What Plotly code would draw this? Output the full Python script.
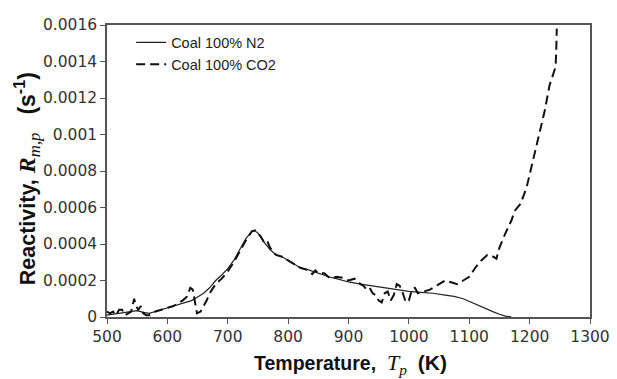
import plotly.graph_objects as go

# Coal 100% N2 (solid)
t_n2 = [500, 510, 520, 530, 540, 550, 560, 570, 580, 590, 600, 610, 620, 630, 640, 650, 660, 670,
        680, 690, 700, 710, 720, 730, 740, 745, 750, 760, 770, 780, 790, 800, 810, 820, 830, 840,
        850, 860, 870, 880, 890, 900, 920, 940, 960, 980, 1000, 1020, 1040, 1060, 1075, 1090, 1100,
        1110, 1120, 1130, 1140, 1150, 1160, 1170]
r_n2 = [0.00001, 0.000015, 0.00002, 0.000028, 0.000033, 0.000035, 0.000025, 0.00002, 0.00003,
        0.00004, 0.00005, 0.00006, 0.00007, 0.00008, 0.00009, 0.00011, 0.00013, 0.00016, 0.0002,
        0.00023, 0.000265, 0.00031, 0.00037, 0.00043, 0.00047, 0.000472, 0.00046, 0.00041,
        0.00037, 0.00034, 0.00033, 0.00031, 0.00029, 0.00027, 0.000262, 0.00025, 0.00024,
        0.00023, 0.000218, 0.00021, 0.0002, 0.000192, 0.00018, 0.00017, 0.00016, 0.00015,
        0.00014, 0.000135, 0.00013, 0.00012, 0.000113, 0.0001, 0.000085, 0.00007, 0.000055,
        0.00004, 0.000028, 0.000015, 0.000005, 0.0]

# Coal 100% CO2 (dashed)
t_co2 = [500, 505, 510, 515, 520, 525, 530, 535, 540, 545, 548, 552, 556, 560, 565, 570, 575, 580,
         590, 600, 610, 620, 625, 632, 638, 642, 646, 649, 655, 660, 665, 670, 680, 690, 700, 710,
         720, 730, 740, 745, 750, 755, 760, 765, 770, 775, 780, 790, 800, 810, 820, 830, 840, 845,
         850, 860, 870, 880, 890, 900, 910, 920, 925, 930, 935, 940, 945, 950, 955, 960, 965, 970,
         975, 980, 985, 990, 995, 1000, 1005, 1010, 1015, 1025, 1035, 1050, 1060, 1070, 1080, 1090,
         1100, 1110, 1120, 1130, 1140, 1145, 1150, 1160, 1170, 1175, 1180, 1185, 1195, 1205, 1215,
         1225, 1233, 1240, 1243, 1244, 1245]
r_co2 = [0.00003, 0.00002, 0.00003, 0.00001, 0.00004, 0.00004, 0.00001, 0.00002, 0.00003, 0.0001,
         0.00006, 0.00004, 0.00006, 0.00002, 0.00001, 0.00001, 0.00002, 0.00003, 0.00004, 0.00005,
         0.00006, 0.00008, 0.00009, 0.00011, 0.00016, 0.00015, 0.00008, 0.00002, 0.00003, 0.00006,
         0.00009, 0.00013, 0.00018, 0.00021, 0.00025, 0.0003, 0.00036, 0.00042, 0.00047, 0.000475,
         0.00046, 0.00044, 0.00041, 0.00042, 0.00038, 0.00036, 0.00034, 0.00033, 0.00031, 0.00029,
         0.00027, 0.00026, 0.000235, 0.000255, 0.00024, 0.00024, 0.00021, 0.00022, 0.000215,
         0.0002, 0.00021, 0.00018, 0.00017, 0.00015, 0.00016, 0.00013, 0.00012, 0.00009, 0.00008,
         0.00013, 0.00014, 0.00009, 0.00012, 0.00018, 0.00017, 0.00013, 0.00008, 0.00009, 0.00015,
         0.00016, 0.00013, 0.00014, 0.00015, 0.00018, 0.0002, 0.00019, 0.00018, 0.0002, 0.00022,
         0.00027, 0.00031, 0.00034, 0.00033, 0.00032, 0.00038, 0.00046, 0.00053, 0.00058, 0.0006,
         0.00062, 0.00071, 0.00085, 0.001, 0.00113, 0.00127, 0.00135, 0.00137, 0.00145, 0.00158]

x_ticks = [500, 600, 700, 800, 900, 1000, 1100, 1200, 1300]
y_ticks = [0, 0.0002, 0.0004, 0.0006, 0.0008, 0.001, 0.0012, 0.0014, 0.0016]
y_ticklabels = ["0", "0.0002", "0.0004", "0.0006", "0.0008", "0.001", "0.0012", "0.0014", "0.0016"]

fig = go.Figure()
fig.add_trace(go.Scatter(x=t_n2, y=r_n2, mode="lines", name="Coal 100% N2",
                         line=dict(color="#222222", width=1.2)))
fig.add_trace(go.Scatter(x=t_co2, y=r_co2, mode="lines", name="Coal 100% CO2",
                         line=dict(color="#111111", width=2, dash="9px,5px")))

serif = "Liberation Serif, Times New Roman, serif"
sans = "Liberation Sans, Arial, sans-serif"
tickfont = dict(family="DejaVu Sans, sans-serif", size=15.5, color="#333333")

x_title = ("<b>Temperature,</b>&nbsp;&nbsp;<span style='font-family:" + serif +
           ";font-size:22px'><i>T</i><sub><i>p</i></sub></span>&nbsp;&nbsp;"
           "<b><span style='font-size:21px'>(K)</span></b>")
y_title = ("<b>Reactivity,</b>&nbsp;<span style='font-family:" + serif +
           ";font-size:24px'><b><i>R</i></b><sub><i>m,p</i></sub></span>&nbsp;&nbsp;&nbsp;"
           "<b><span style='font-size:23px'>(s<sup>-1</sup>)</span></b>")

fig.update_layout(
    width=617, height=379,
    margin=dict(l=107, r=27, t=25, b=62, autoexpand=False),
    paper_bgcolor="white", plot_bgcolor="white",
    font=dict(family=sans, color="#111111", size=15),
    showlegend=True,
    legend=dict(x=0.05, y=0.995, xanchor="left", yanchor="top", bgcolor="rgba(0,0,0,0)",
                font=dict(family=sans, size=14.5, color="#222222"), tracegroupgap=0,
                itemwidth=30),
    xaxis=dict(range=[500, 1300], tickvals=x_ticks, ticks="outside", ticklen=5,
               tickcolor="#555555", showline=True, linecolor="#555555", linewidth=1.5,
               mirror=True, showgrid=False, zeroline=False, tickfont=tickfont,
               automargin=False),
    yaxis=dict(range=[0, 0.0016], tickvals=y_ticks, ticktext=y_ticklabels, ticks="outside",
               ticklen=5, tickcolor="#555555", showline=True, linecolor="#555555",
               linewidth=1.5, mirror=True, showgrid=False, zeroline=False, tickfont=tickfont,
               automargin=False),
    annotations=[
        dict(text=x_title, xref="paper", yref="paper", x=0.505, y=0, xanchor="center",
             yanchor="middle", yshift=-47, showarrow=False,
             font=dict(family=sans, size=19.5, color="#111111")),
        dict(text=y_title, xref="paper", yref="paper", x=-0.165, y=0.473, xanchor="center",
             yanchor="middle", textangle=-90, showarrow=False,
             font=dict(family=sans, size=21.5, color="#111111")),
    ],
)

fig.write_html("out.html")
